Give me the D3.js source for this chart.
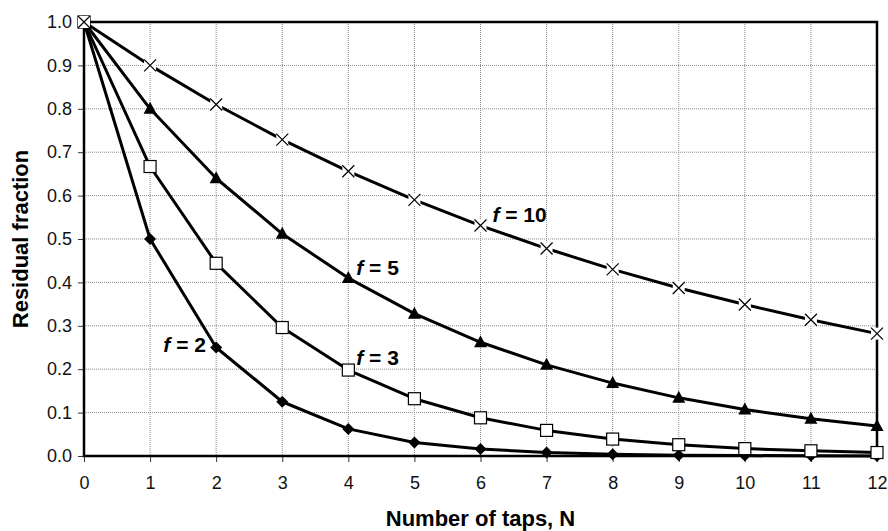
<!DOCTYPE html>
<html>
<head>
<meta charset="utf-8">
<script src="https://cdn.jsdelivr.net/npm/d3@7"></script>
<style>
  body { margin: 0; background: #fff; }
  text { font-family: Arial, "Liberation Sans", sans-serif; }
</style>
</head>
<body>
<svg id="chart" width="888" height="531"></svg>
<script>
// taps N
var taps = [0, 1, 2, 3, 4, 5, 6, 7, 8, 9, 10, 11, 12];
// residual fraction, one list per dilution factor f
var f2  = [1, 0.5, 0.25, 0.125, 0.0625, 0.031, 0.016, 0.008, 0.004, 0.002, 0.001, 0.0005, 0.0002];
var f3  = [1, 0.667, 0.444, 0.296, 0.198, 0.132, 0.088, 0.059, 0.039, 0.026, 0.017, 0.012, 0.008];
var f5  = [1, 0.8, 0.64, 0.512, 0.41, 0.328, 0.262, 0.21, 0.168, 0.134, 0.107, 0.086, 0.069];
var f10 = [1, 0.9, 0.81, 0.729, 0.656, 0.59, 0.531, 0.478, 0.43, 0.387, 0.349, 0.314, 0.282];
var yTicks = [0, 0.1, 0.2, 0.3, 0.4, 0.5, 0.6, 0.7, 0.8, 0.9, 1.0];

var series = [
    {name: "2",  values: f2,  marker: "diamond",  label: [1.2, 0.24]},
    {name: "3",  values: f3,  marker: "square",   label: [4.12, 0.21]},
    {name: "5",  values: f5,  marker: "triangle", label: [4.12, 0.416]},
    {name: "10", values: f10, marker: "cross",    label: [6.18, 0.539]}
];

var svg = d3.select("#chart");
var pLeft = 84, pRight = 877, pTop = 22, pBottom = 456;

var x = d3.scaleLinear().domain([0, 12]).range([pLeft, pRight]);
var y = d3.scaleLinear().domain([0, 1]).range([pBottom, pTop]);

// Gridlines
svg.append("g").selectAll("line")
    .data(yTicks.slice(1))
    .enter().append("line")
    .attr("x1", pLeft).attr("x2", pRight)
    .attr("y1", d => y(d)).attr("y2", d => y(d))
    .style("stroke", "#8a8a8a").style("stroke-width", 1)
    .style("stroke-dasharray", "1,1");

svg.append("g").selectAll("line")
    .data(taps.slice(1))
    .enter().append("line")
    .attr("x1", d => x(d)).attr("x2", d => x(d))
    .attr("y1", pTop).attr("y2", pBottom)
    .style("stroke", "#8a8a8a").style("stroke-width", 1)
    .style("stroke-dasharray", "1,1");

// Axes
var yAxis = d3.axisLeft(y).tickValues(yTicks).tickFormat(d3.format(".1f"))
    .tickSizeInner(6).tickSizeOuter(0).tickPadding(6);
var xAxis = d3.axisBottom(x).tickValues(taps).tickFormat(d3.format("d"))
    .tickSizeInner(6).tickSizeOuter(0).tickPadding(14);

var gy = svg.append("g").attr("transform", "translate(" + pLeft + ",0)").call(yAxis);
var gx = svg.append("g").attr("transform", "translate(0," + pBottom + ")").call(xAxis);
[gx, gy].forEach(function(g) {
    g.select(".domain").remove();
    g.selectAll(".tick line").style("stroke", "#333");
    g.selectAll(".tick text").style("font-size", "18px").style("fill", "#111")
        .style("font-family", "Arial, 'Liberation Sans', sans-serif");
});

// Plot frame
svg.append("rect")
    .attr("x", pLeft).attr("y", pTop)
    .attr("width", pRight - pLeft).attr("height", pBottom - pTop)
    .style("fill", "none").style("stroke", "#000").style("stroke-width", 2.5);

// Lines
var line = d3.line()
    .x((d, i) => x(taps[i]))
    .y(d => y(d));

svg.append("g").selectAll("path")
    .data(series)
    .enter().append("path")
    .attr("d", d => line(d.values))
    .style("fill", "none").style("stroke", "#000").style("stroke-width", 3)
    .style("stroke-linejoin", "round");

// Markers
series.forEach(function(s) {
    var g = svg.append("g");
    var pts = g.selectAll("g")
        .data(s.values)
        .enter().append("g")
        .attr("transform", (d, i) => "translate(" + x(taps[i]) + "," + y(d) + ")");
    if (s.marker === "diamond") {
        pts.append("path").attr("d", "M0,-6L6,0L0,6L-6,0Z").style("fill", "#000");
    } else if (s.marker === "square") {
        pts.append("rect").attr("x", -6).attr("y", -6).attr("width", 12).attr("height", 12)
            .style("fill", "#fff").style("stroke", "#000").style("stroke-width", 1.2);
    } else if (s.marker === "triangle") {
        pts.append("path").attr("d", "M0,-7L6.5,5L-6.5,5Z").style("fill", "#000");
    } else {
        pts.append("rect").attr("x", -6).attr("y", -6).attr("width", 12).attr("height", 12)
            .style("fill", "#fff");
        pts.append("path").attr("d", "M-6,-6L6,6M6,-6L-6,6")
            .style("stroke", "#000").style("stroke-width", 1.2);
    }
});

// Series labels
series.forEach(function(s) {
    var t = svg.append("text")
        .attr("x", x(s.label[0])).attr("y", y(s.label[1]))
        .style("font-size", "21px").style("font-weight", "bold");
    t.append("tspan").style("font-style", "italic").text("f");
    t.append("tspan").text(" = " + s.name);
});

// Axis titles
svg.append("text")
    .attr("x", (pLeft + pRight) / 2).attr("y", 526)
    .attr("text-anchor", "middle")
    .style("font-size", "22px").style("font-weight", "bold")
    .text("Number of taps, N");

svg.append("text")
    .attr("transform", "translate(28," + (pTop + pBottom) / 2 + ") rotate(-90)")
    .attr("text-anchor", "middle")
    .style("font-size", "22px").style("font-weight", "bold")
    .text("Residual fraction");
</script>
</body>
</html>
